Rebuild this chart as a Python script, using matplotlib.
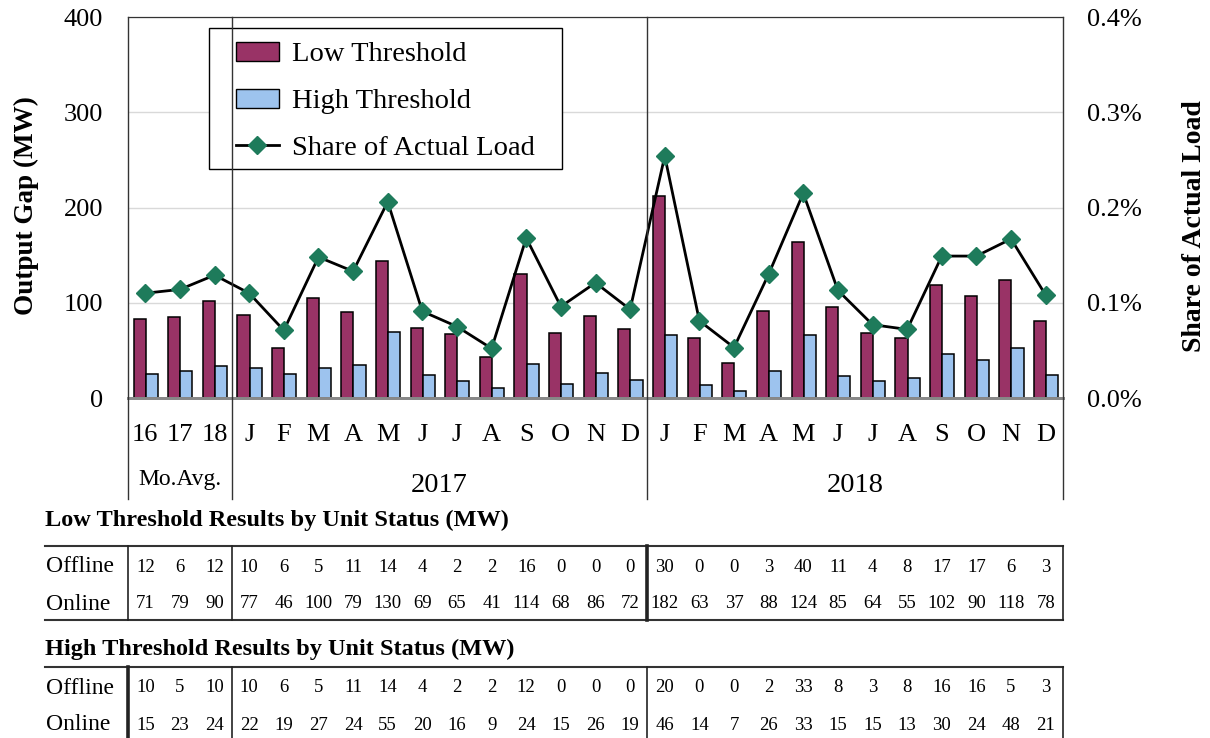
import numpy as np
import matplotlib
matplotlib.use("Agg")
import matplotlib.pyplot as plt
from matplotlib.ticker import PercentFormatter
from matplotlib.transforms import blended_transform_factory
from matplotlib.lines import Line2D
from matplotlib.patches import Patch, Rectangle

plt.rcParams["font.family"] = ["Liberation Serif", "DejaVu Serif"]

# --- data -------------------------------------------------------------
months = ["16", "17", "18"] + list("JFMAMJJASOND") * 2
low_offline = [12, 6, 12, 10, 6, 5, 11, 14, 4, 2, 2, 16, 0, 0, 0,
               30, 0, 0, 3, 40, 11, 4, 8, 17, 17, 6, 3]
low_online = [71, 79, 90, 77, 46, 100, 79, 130, 69, 65, 41, 114, 68, 86, 72,
              182, 63, 37, 88, 124, 85, 64, 55, 102, 90, 118, 78]
high_offline = [10, 5, 10, 10, 6, 5, 11, 14, 4, 2, 2, 12, 0, 0, 0,
                20, 0, 0, 2, 33, 8, 3, 8, 16, 16, 5, 3]
high_online = [15, 23, 24, 22, 19, 27, 24, 55, 20, 16, 9, 24, 15, 26, 19,
               46, 14, 7, 26, 33, 15, 15, 13, 30, 24, 48, 21]
share_pct = [0.110, 0.114, 0.129, 0.110, 0.071, 0.148, 0.133, 0.206, 0.091,
             0.075, 0.052, 0.168, 0.096, 0.121, 0.093,
             0.254, 0.081, 0.053, 0.130, 0.215, 0.113, 0.077, 0.072, 0.149,
             0.149, 0.167, 0.108]
groups = [("Mo.Avg.", 0, 2), ("2017", 3, 14), ("2018", 15, 26)]

low_total = np.array(low_offline) + np.array(low_online)
high_total = np.array(high_offline) + np.array(high_online)

LOW_C, HIGH_C, MK_C = "#993366", "#9dc3ee", "#1e7b5b"

# --- figure -----------------------------------------------------------
W, H = 1210, 738
fig = plt.figure(figsize=(W / 100, H / 100), dpi=100)
ax = fig.add_axes([128 / W, 1 - 398 / H, 935 / W, 381 / H])
ax2 = ax.twinx()
fy = lambda px: 1 - px / H
fx = lambda px: px / W

x = np.arange(len(months))
ax.bar(x - 0.165, low_total, width=0.35, color=LOW_C, edgecolor="black", lw=1.1, zorder=2)
ax.bar(x + 0.185, high_total, width=0.35, color=HIGH_C, edgecolor="black", lw=1.1, zorder=2)
ax2.plot(x, share_pct, color="black", lw=2, marker="D", ms=9,
         mfc=MK_C, mec=MK_C, zorder=3)

ax.set_xlim(-0.5, len(months) - 0.5)
ax.set_ylim(0, 400)
ax.set_yticks([0, 100, 200, 300, 400])
ax2.set_ylim(0, 0.4)
ax2.set_yticks([0, 0.1, 0.2, 0.3, 0.4])
ax2.yaxis.set_major_formatter(PercentFormatter(xmax=100, decimals=1))
ax.grid(axis="y", color="#d9d9d9", lw=1)
ax.set_axisbelow(True)
ax.set_xticks(x)
ax.set_xticklabels(months)
ax.tick_params(axis="x", length=0, pad=19, labelsize=19)
ax.tick_params(axis="y", length=0, pad=18, labelsize=19)
ax2.tick_params(axis="y", length=0, pad=17, labelsize=19)
for a in (ax, ax2):
    for s in ("left", "right"):
        a.spines[s].set_visible(False)
    a.spines["top"].set_color("#333333")
    a.spines["bottom"].set_color("#888888")
    a.spines["bottom"].set_linewidth(2)
ax.set_ylabel("Output Gap (MW)", fontsize=19.5, fontweight="bold")
ax.yaxis.set_label_coords(-0.095, 0.505)
ax2.set_ylabel("Share of Actual Load", fontsize=20, fontweight="bold")
ax2.yaxis.set_label_coords(1.127, 0.45)

# legend: frame drawn separately so its size can follow the reference box
ax2.add_patch(Rectangle((0.0866, 0.602), 0.3775, 0.370, transform=ax2.transAxes,
                        fc="white", ec="black", lw=1, zorder=4))
h = [Patch(fc=LOW_C, ec="black"), Patch(fc=HIGH_C, ec="black"),
     Line2D([], [], color="black", lw=2, marker="D", ms=9, mfc=MK_C, mec=MK_C)]
leg = ax2.legend(h, ["Low Threshold", "High Threshold", "Share of Actual Load"],
                 loc="upper left", bbox_to_anchor=(0.1155, 0.935), borderaxespad=0,
                 fontsize=20.5, frameon=False, borderpad=0,
                 handlelength=1.5, handleheight=0.65, handletextpad=0.45,
                 labelspacing=0.75)
leg.set_zorder(5)

# divider lines running from the top of the plot down through the labels
tr = blended_transform_factory(ax.transData, fig.transFigure)
for xv in (-0.5, 2.5, 14.5, len(months) - 0.5):
    fig.add_artist(Line2D([xv, xv], [fy(17), fy(499)], transform=tr, color="#333333", lw=1))

for name, i0, i1 in groups:
    if name == "Mo.Avg.":
        fig.text((i0 + i1) / 2, fy(479), name, transform=tr, ha="center", va="center", fontsize=17)
    else:
        fig.text((i0 + i1) / 2, fy(485), name, transform=tr, ha="center", va="center", fontsize=20.5)

# --- unit status tables -----------------------------------------------
def table(title, y_title, y_top, y_bot, off, on, thick_at):
    fig.text(fx(45), fy(y_title), title, fontsize=17.5, fontweight="bold", va="center")
    fig.add_artist(Line2D([fx(45), fx(1063)], [fy(y_top)] * 2, transform=fig.transFigure,
                          color="#333333", lw=1.5))
    if y_bot < H:
        fig.add_artist(Line2D([fx(45), fx(1063)], [fy(y_bot)] * 2, transform=fig.transFigure,
                              color="#333333", lw=1.5))
    for xv in (-0.5, 2.5, 14.5, len(months) - 0.5):
        fig.add_artist(Line2D([xv, xv], [fy(y_top), fy(min(y_bot, H))], transform=tr,
                              color="#222222", lw=2.6 if xv == thick_at else 1.2))
    y1 = y_top + 21
    y2 = y_top + 58
    fig.text(fx(46), fy(y1), "Offline", fontsize=17, va="center")
    fig.text(fx(46), fy(y2), "Online", fontsize=17, va="center")
    for i in range(len(months)):
        fig.text(i, fy(y1), str(off[i]), transform=tr, ha="center", va="center", fontsize=13.5)
        fig.text(i, fy(y2), str(on[i]), transform=tr, ha="center", va="center", fontsize=13.5)

table("Low Threshold Results by Unit Status (MW)", 520, 546, 620, low_offline, low_online, 14.5)
table("High Threshold Results by Unit Status (MW)", 649, 667, 760, high_offline, high_online, -0.5)

fig.savefig("out.png", dpi=100)
